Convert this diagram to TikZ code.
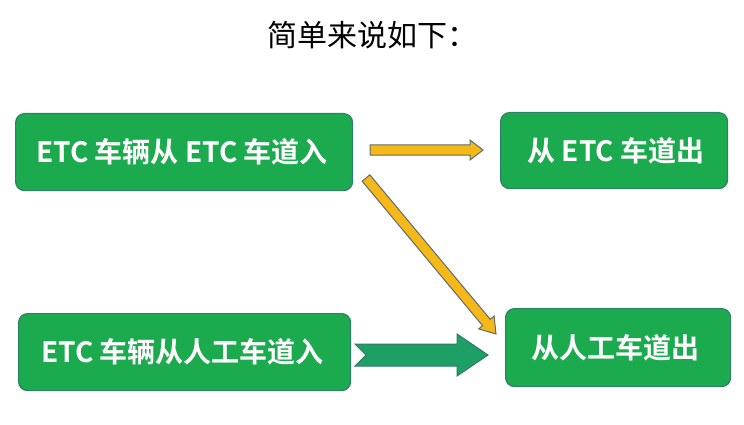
\documentclass[tikz,border=0pt]{standalone}
\usepackage{fontspec}
\newfontfamily\cjk{Noto Sans CJK SC}
\newfontfamily\cjkb{Noto Sans CJK SC Bold}
\usetikzlibrary{calc}
\definecolor{boxgreen}{HTML}{1BAA4D}
\definecolor{boxedge}{HTML}{2F7F66}
\definecolor{arryel}{HTML}{F4B918}
\definecolor{arredge}{HTML}{5F6B6E}
\definecolor{arrgreen}{HTML}{1E9F66}
\definecolor{arrgedge}{HTML}{2F7A66}
\tikzset{
  stepbox/.style={draw=boxedge, line width=1.2pt, fill=boxgreen, rounded corners=9pt,
    anchor=north west, inner sep=0pt},
  boxtext/.style={text=white, font=\cjkb\fontsize{28}{30}\selectfont},
  yelarrow/.style={fill=arryel, draw=arredge, line width=1pt, line join=miter},
  grnarrow/.style={fill=arrgreen, draw=arrgedge, line width=1pt, line join=miter},
  title/.style={font=\cjk\fontsize{30}{34}\selectfont, text=black}
}
\begin{document}
\begin{tikzpicture}[x=1pt,y=-1pt]
\useasboundingbox (0,0) rectangle (744,425);
\node[title] (t) at (372,35) {简单来说如下：};
\node[stepbox, minimum width=337pt, minimum height=77pt] (a) at (15,113) {};
\node[boxtext] (at) at ($(a.center)+(-2,0)$) {ETC 车辆从 ETC 车道入};
\node[stepbox, minimum width=227pt, minimum height=76pt] (b) at (500,112) {};
\node[boxtext] (bt) at ($(b.center)+(2,0)$) {从 ETC 车道出};
\node[stepbox, minimum width=332pt, minimum height=77pt] (c) at (18,313) {};
\node[boxtext] (ct) at ($(c.center)+(-2,0)$) {ETC 车辆从人工车道入};
\node[stepbox, minimum width=225pt, minimum height=78pt] (d) at (505,308) {};
\node[boxtext] (dt) at ($(d.center)+(-3,0)$) {从人工车道出};
% arrow 1: a -> b
\coordinate (s1) at (370,150);
\coordinate (e1) at (483,150);
\coordinate (m1) at ($(e1)!13pt!(s1)$);
\draw[yelarrow] ($(s1)!5pt!90:(e1)$) -- ($(m1)!5pt!90:(e1)$) -- ($(m1)!10pt!90:(e1)$) -- (e1)
  -- ($(m1)!10pt!-90:(e1)$) -- ($(m1)!5pt!-90:(e1)$) -- ($(s1)!5pt!-90:(e1)$) -- cycle;
% arrow 2: a -> d (diagonal)
\coordinate (s2) at (366,178);
\coordinate (e2) at (496,334);
\coordinate (m2) at ($(e2)!15pt!(s2)$);
\draw[yelarrow] ($(s2)!5pt!90:(e2)$) -- ($(m2)!5pt!90:(e2)$) -- ($(m2)!10pt!90:(e2)$) -- (e2)
  -- ($(m2)!10pt!-90:(e2)$) -- ($(m2)!5pt!-90:(e2)$) -- ($(s2)!5pt!-90:(e2)$) -- cycle;
% arrow 3: c -> d (green notched)
\coordinate (s3) at (355,355);
\coordinate (e3) at (488,355);
\coordinate (m3) at ($(e3)!31pt!(s3)$);
\coordinate (n3) at ($(s3)!11pt!(e3)$);
\draw[grnarrow] ($(s3)!11pt!90:(e3)$) -- ($(m3)!11pt!90:(e3)$) -- ($(m3)!21pt!90:(e3)$) -- (e3)
  -- ($(m3)!21pt!-90:(e3)$) -- ($(m3)!11pt!-90:(e3)$) -- ($(s3)!11pt!-90:(e3)$) -- (n3) -- cycle;
\end{tikzpicture}
\end{document}
